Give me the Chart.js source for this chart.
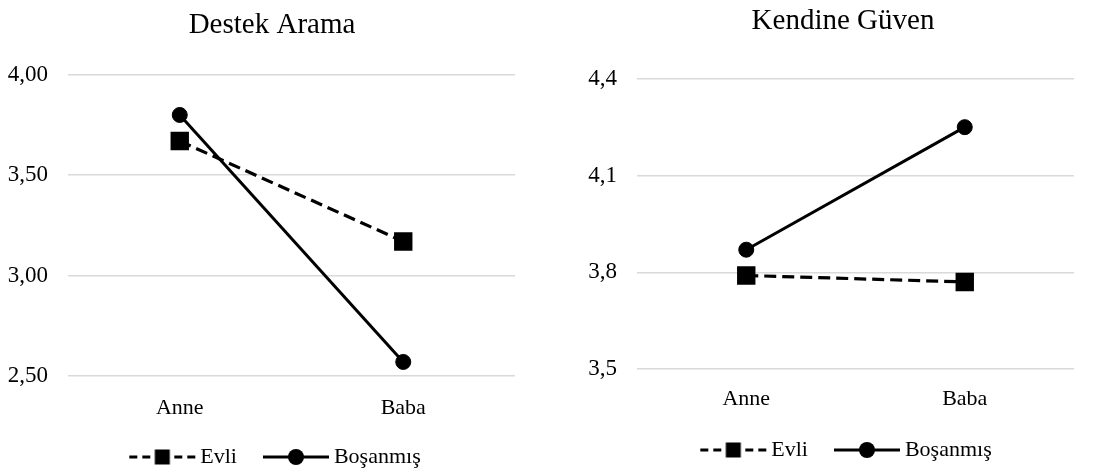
<!DOCTYPE html>
<html>
<head>
<meta charset="utf-8">
<script src="https://cdn.jsdelivr.net/npm/chart.js@4/dist/chart.umd.min.js"></script>
<style>
    html, body { margin: 0; padding: 0; background: #fff; }
    #wrap { position: relative; width: 1107px; height: 470px; }
    #c1 { position: absolute; left: 0; top: 0; }
    #c2 { position: absolute; left: 555px; top: 0; }
</style>
</head>
<body>
<div id="wrap">
    <canvas id="c1" width="555" height="470"></canvas>
    <canvas id="c2" width="552" height="470"></canvas>
</div>
<script>
const categories = ['Anne', 'Baba'];
const seriesNames = ['Evli', 'Boşanmış'];

const destekEvli = [3.67, 3.17];
const destekBosanmis = [3.80, 2.57];
const destekTicks = [2.5, 3.0, 3.5, 4.0];

const guvenEvli = [3.79, 3.77];
const guvenBosanmis = [3.87, 4.25];
const guvenTicks = [3.5, 3.8, 4.1, 4.4];

const FONT = "'Liberation Serif', 'Times New Roman', serif";

// line+marker pictures for the legend (80 wide, the line sits at 13..79)
function legendIcon(dashed) {
    const c = document.createElement('canvas');
    c.width = 80;
    c.height = 20;
    const g = c.getContext('2d');
    g.strokeStyle = '#000';
    g.fillStyle = '#000';
    g.lineWidth = 3;
    if (dashed) {
        g.setLineDash([8, 5]);
        g.beginPath(); g.moveTo(13, 10); g.lineTo(39, 10); g.stroke();
        g.beginPath(); g.moveTo(79, 10); g.lineTo(53, 10); g.stroke();
        g.setLineDash([]);
        g.fillRect(38.5, 2.5, 15, 15);
    } else {
        g.beginPath(); g.moveTo(13, 10); g.lineTo(79, 10); g.stroke();
        g.beginPath(); g.arc(46, 10, 8, 0, Math.PI * 2); g.fill();
    }
    return c;
}
const icons = [legendIcon(true), legendIcon(false)];

function makeChart(id, title, evli, bosanmis, ticks, decimals, lay) {
    new Chart(document.getElementById(id), {
        type: 'line',
        data: {
            labels: categories,
            datasets: [
                {
                    label: seriesNames[0], data: evli,
                    borderColor: '#000', backgroundColor: '#000',
                    borderWidth: 3.2, borderDash: [12, 6],
                    pointStyle: 'rect', pointRadius: 13, pointBorderWidth: 0,
                    tension: 0, order: 1
                },
                {
                    label: seriesNames[1], data: bosanmis,
                    borderColor: '#000', backgroundColor: '#000',
                    borderWidth: 3,
                    pointStyle: 'circle', pointRadius: 7.5, pointBorderWidth: 1,
                    tension: 0, order: 0
                }
            ]
        },
        options: {
            responsive: false,
            animation: false,
            layout: { padding: { left: lay.padLeft, right: lay.padRight, top: 0, bottom: lay.padBottom } },
            plugins: {
                title: {
                    display: true, text: title, color: '#000',
                    font: { family: FONT, size: 29, weight: 'normal' },
                    padding: { top: lay.titleTop, bottom: lay.titleBottom }
                },
                legend: {
                    position: 'bottom',
                    labels: {
                        usePointStyle: true,
                        pointStyleWidth: 66,
                        padding: 20,
                        color: '#000',
                        font: { family: FONT, size: 22 },
                        generateLabels: () => seriesNames.map((name, i) => ({
                            text: name,
                            pointStyle: icons[i],
                            fontColor: '#000',
                            lineWidth: 0,
                            hidden: false,
                            datasetIndex: i
                        }))
                    }
                },
                tooltip: { enabled: false }
            },
            scales: {
                x: {
                    offset: true,
                    grid: { display: false, drawTicks: false },
                    border: { display: false },
                    ticks: { color: '#000', font: { family: FONT, size: 22 }, padding: lay.xPad },
                    afterFit: s => { s.height = lay.xHeight; }
                },
                y: {
                    min: ticks[0], max: ticks[ticks.length - 1],
                    grid: { color: '#d9d9d9', lineWidth: 1.5, drawTicks: false },
                    border: { display: false },
                    ticks: {
                        color: '#000', font: { family: FONT, size: 23 }, padding: 20,
                        callback: v => v.toFixed(decimals).replace('.', ',')
                    },
                    afterBuildTicks: s => { s.ticks = ticks.map(v => ({ value: v })); },
                    afterFit: s => { s.width = lay.yWidth; }
                },
                yRight: {
                    position: 'right', display: true,
                    grid: { display: false, drawTicks: false },
                    border: { display: false },
                    ticks: { display: false },
                    afterFit: s => { s.width = lay.rWidth; }
                }
            }
        }
    });
}

makeChart('c1', 'Destek Arama', destekEvli, destekBosanmis, destekTicks, 2, {
    padLeft: 4, padRight: 15, padBottom: -8,
    titleTop: 8, titleBottom: 32,
    yWidth: 64, rWidth: 25, xPad: 19, xHeight: 50
});
makeChart('c2', 'Kendine Güven', guvenEvli, guvenBosanmis, guvenTicks, 1, {
    padLeft: 24, padRight: 0, padBottom: -1,
    titleTop: 4, titleBottom: 40,
    yWidth: 58, rWidth: 33, xPad: 17, xHeight: 50
});
</script>
</body>
</html>
